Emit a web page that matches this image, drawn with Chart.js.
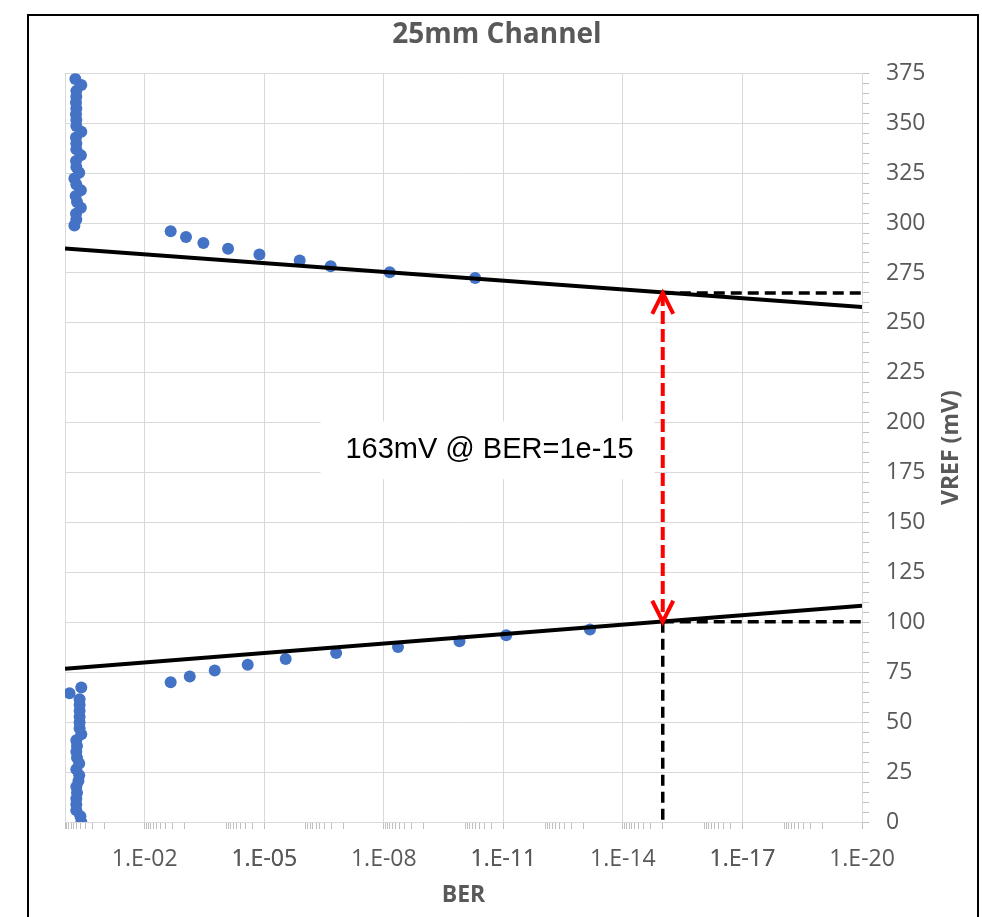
<!DOCTYPE html>
<html lang="en">
<head>
  <meta charset="UTF-8">
  <title>25mm Channel</title>
  <script src="https://cdn.jsdelivr.net/npm/chart.js"></script>
  <style>
    html, body { margin: 0; padding: 0; background: #fff; }
    #wrap { position: relative; width: 982px; height: 917px; }
    #frame {
      position: absolute; left: 27px; top: 14px; width: 948px; height: 920px;
      border: 2px solid #000; pointer-events: none;
    }
  </style>
</head>
<body>
  <div id="wrap">
    <canvas id="eyeChart"></canvas>
    <div id="frame"></div>
  </div>

  <script>
    // upper eye edge: slope points then the floor cluster near BER 0.5
    const eyeTopBer = [5.1e-11, 7.1e-9, 2.15e-7, 1.29e-6, 1.32e-5, 8.1e-5, 3.37e-4, 9.2e-4, 2.23e-3,
      0.58, 0.52, 0.53, 0.40, 0.50, 0.54, 0.40, 0.52, 0.58, 0.44, 0.52, 0.53, 0.40,
      0.52, 0.52, 0.53, 0.39, 0.52, 0.52, 0.53, 0.52, 0.53, 0.52, 0.52, 0.39, 0.55];
    const eyeTopMv = [272.5, 275.4, 278.3, 281.2, 284.2, 287.1, 290.0, 293.0, 295.9,
      298.8, 301.8, 304.7, 307.6, 310.5, 313.5, 316.4, 319.3, 322.3, 325.2, 328.1, 331.1, 334.0,
      336.9, 339.8, 342.8, 345.7, 348.6, 351.6, 354.5, 357.4, 360.4, 363.3, 366.2, 369.1, 372.1];

    // lower eye edge
    const eyeBotBer = [2.23e-3, 7.4e-4, 1.75e-4, 2.6e-5, 2.9e-6, 1.57e-7, 4.4e-9, 1.26e-10, 8.5e-12, 6.7e-14,
      0.39, 0.41, 0.52, 0.52, 0.52, 0.50, 0.52, 0.46, 0.44, 0.52, 0.44, 0.50,
      0.52, 0.50, 0.52, 0.39, 0.43, 0.43, 0.43, 0.43, 0.43, 0.43, 0.77, 0.39];
    const eyeBotMv = [70.0, 72.9, 75.9, 78.8, 81.7, 84.7, 87.6, 90.5, 93.5, 96.4,
      0, 2.9, 5.9, 8.8, 11.7, 14.6, 17.6, 20.5, 23.4, 26.4, 29.3, 32.2,
      35.2, 38.1, 41.0, 43.9, 46.9, 49.8, 52.7, 55.7, 58.6, 61.5, 64.5, 67.4];

    // extrapolation lines
    const fitTopBer = [1, 1e-20];
    const fitTopMv = [287.3, 257.9];
    const fitBotBer = [1, 1e-20];
    const fitBotMv = [76.7, 108.3];

    // eye opening at target BER
    const targetBer = 1e-15;
    const openTopMv = 265;
    const openBotMv = 100.3;
    const axisEndBer = 1e-20;
    const noteText = '163mV @ BER=1e-15';

    // axis ticks
    const xMajorTicks = [1e-2, 1e-5, 1e-8, 1e-11, 1e-14, 1e-17, 1e-20];
    const xMinorDecades = [1e-1, 1e-3, 1e-5, 1e-7, 1e-9, 1e-11, 1e-13, 1e-15, 1e-17, 1e-19];
    const xMinorSteps = [1, 2, 3, 4, 5, 6, 7, 8, 9];
    const yMajorStep = 25;
    const yMinorStep = 5;

    const pts = (xs, ys) => xs.map((x, i) => ({ x: x, y: ys[i] }));

    const xTickValues = [1].concat(xMajorTicks);
    xMinorDecades.forEach(d => xMinorSteps.forEach(k => xTickValues.push(k * d)));
    xTickValues.sort((a, b) => b - a);

    const isXMajor = v => xMajorTicks.some(m => Math.abs(Math.log10(v) - Math.log10(m)) < 1e-6);
    const berLabel = v => '1.E-' + String(-Math.round(Math.log10(v))).padStart(2, '0');

    const gridGrey = '#d9d9d9';
    const tickGrey = '#bfbfbf';
    const textGrey = '#595959';

    Chart.defaults.font.family = "'Open Sans', sans-serif";

    const extras = {
      id: 'extras',
      beforeDatasetsDraw(chart) {
        const { ctx, scales } = chart;
        const cx = scales.x.getPixelForValue(2.5e-11);
        const cy = scales.y.getPixelForValue(186.2);
        ctx.save();
        ctx.fillStyle = '#fff';
        ctx.fillRect(cx - 167, cy - 29, 334, 58);
        ctx.fillStyle = '#000';
        ctx.font = "29px 'Liberation Sans', Arial, sans-serif";
        ctx.textAlign = 'center';
        ctx.textBaseline = 'middle';
        ctx.fillText(noteText, cx + 2, cy);
        ctx.restore();
      },
      afterDatasetsDraw(chart) {
        const { ctx } = chart;
        const meta = chart.getDatasetMeta(chart.data.datasets.findIndex(d => d.label === 'arrow'));
        const [a, b] = meta.data;
        ctx.save();
        ctx.strokeStyle = '#ff0000';
        ctx.lineWidth = 4;
        ctx.setLineDash([]);
        ctx.beginPath();
        ctx.moveTo(a.x - 10.5, a.y + 21); ctx.lineTo(a.x, a.y); ctx.lineTo(a.x + 10.5, a.y + 21);
        ctx.moveTo(b.x - 10.5, b.y - 21); ctx.lineTo(b.x, b.y); ctx.lineTo(b.x + 10.5, b.y - 21);
        ctx.stroke();
        ctx.restore();
      },
      afterDraw(chart) {
        const { ctx, chartArea } = chart;
        ctx.save();
        ctx.translate(chart.width - 31, (chartArea.top + chartArea.bottom) / 2);
        ctx.rotate(-Math.PI / 2);
        ctx.fillStyle = textGrey;
        ctx.font = "bold 23px 'Open Sans', sans-serif";
        ctx.textAlign = 'center';
        ctx.textBaseline = 'middle';
        ctx.fillText('VREF (mV)', 0, 0);
        ctx.restore();
      }
    };

    const lineSet = (label, data, color, dash, width) => ({
      label: label, data: data, showLine: true, pointRadius: 0, pointHoverRadius: 0,
      borderColor: color, borderWidth: width, borderDash: dash, fill: false
    });

    new Chart(document.getElementById('eyeChart'), {
      type: 'scatter',
      data: {
        datasets: [
          lineSet('arrow', pts([targetBer, targetBer], [openTopMv, openBotMv]), '#ff0000', [13, 5], 4),
          lineSet('fitTop', pts(fitTopBer, fitTopMv), '#000', [], 4),
          lineSet('fitBot', pts(fitBotBer, fitBotMv), '#000', [], 4),
          lineSet('dashTop', pts([targetBer, axisEndBer], [openTopMv, openTopMv]), '#000', [11, 6], 3.5),
          lineSet('dashBot', pts([targetBer, axisEndBer], [openBotMv, openBotMv]), '#000', [11, 6], 3.5),
          lineSet('dashDown', pts([targetBer, targetBer], [openBotMv, 0]), '#000', [11, 6], 3.5),
          { label: 'top', data: pts(eyeTopBer, eyeTopMv), backgroundColor: '#4472c4', borderWidth: 0, pointRadius: 6 },
          { label: 'bottom', data: pts(eyeBotBer, eyeBotMv), backgroundColor: '#4472c4', borderWidth: 0, pointRadius: 6 }
        ]
      },
      options: {
        responsive: true,
        maintainAspectRatio: false,
        animation: false,
        events: [],
        layout: { padding: { left: 12, right: 0, top: 0, bottom: 0 } },
        plugins: {
          legend: { display: false },
          tooltip: { enabled: false },
          title: {
            display: true, text: '25mm Channel', color: textGrey,
            font: { size: 28, weight: 'bold' }, padding: { top: 18, bottom: 21.7 }
          }
        },
        scales: {
          x: {
            type: 'logarithmic', position: 'bottom', reverse: true,
            min: 1e-20, max: 1,
            afterBuildTicks: scale => { scale.ticks = xTickValues.map(v => ({ value: v })); },
            afterFit: scale => { scale.height = 95; },
            ticks: {
              autoSkip: false, maxRotation: 0, padding: 17, color: textGrey,
              font: { size: 23 },
              callback: v => isXMajor(v) ? berLabel(v) : ''
            },
            grid: {
              tickLength: 7,
              color: c => (c.tick && (isXMajor(c.tick.value) || c.tick.value === 1)) ? gridGrey : 'rgba(0,0,0,0)',
              tickColor: tickGrey
            },
            border: { color: gridGrey, width: 1 },
            title: {
              display: true, text: 'BER', color: textGrey,
              font: { size: 23, weight: 'bold' }, padding: { top: 0, bottom: 8 }
            }
          },
          y: {
            type: 'linear', position: 'right', min: 0, max: 375,
            afterBuildTicks: scale => {
              const t = [];
              for (let v = 0; v <= 375; v += yMinorStep) t.push({ value: v });
              scale.ticks = t;
            },
            afterFit: scale => { scale.width = 120; },
            ticks: {
              autoSkip: false, padding: 17, color: textGrey,
              font: { size: 23 },
              callback: v => v % yMajorStep === 0 ? String(v) : ''
            },
            grid: {
              tickLength: 7,
              color: c => (c.tick && c.tick.value % yMajorStep === 0) ? gridGrey : 'rgba(0,0,0,0)',
              tickColor: tickGrey
            },
            border: { color: gridGrey, width: 1 }
          },
          // empty left gutter so the title stays centred on the page
          gutter: {
            type: 'linear', position: 'left', display: true,
            afterFit: scale => { scale.width = 53; },
            ticks: { display: false },
            grid: { display: false },
            border: { display: false }
          }
        }
      },
      plugins: [extras]
    });
  </script>
</body>
</html>
